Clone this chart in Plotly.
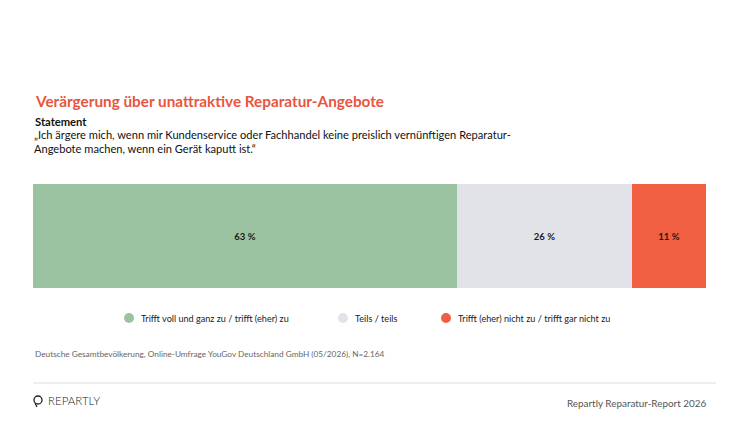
import plotly.graph_objects as go

W, H = 750, 422

categories = ["Trifft voll und ganz zu / trifft (eher) zu", "Teils / teils", "Trifft (eher) nicht zu / trifft gar nicht zu"]
values = [63, 26, 11]
colors = ["#9BC3A1", "#E2E3E8", "#F05F42"]
statement = ["Statement"]

title = "Verärgerung über unattraktive Reparatur-Angebote"
quote_lines = ["„Ich ärgere mich, wenn mir Kundenservice oder Fachhandel keine preislich vernünftigen Reparatur-",
               "Angebote machen, wenn ein Gerät kaputt ist.“"]
source = "Deutsche Gesamtbevölkerung, Online-Umfrage YouGov Deutschland GmbH (05/2026), N=2.164"
footer = "Repartly Reparatur-Report 2026"

def px(x):
    return x / W

def py(y):
    return 1 - y / H

fig = go.Figure()
for cat, val, col in zip(categories, values, colors):
    fig.add_trace(go.Bar(
        y=statement, x=[val], name=cat, orientation="h",
        marker=dict(color=col, line=dict(width=0)),
        text=[f"{val}\u202f%"], textposition="inside", insidetextanchor="middle",
        textfont=dict(family="Lato", size=9.5, color="#1a1a1a", weight="bold"),
        hoverinfo="skip", showlegend=False,
    ))

fig.update_layout(
    width=W, height=H, barmode="stack", bargap=0,
    margin=dict(l=0, r=0, t=0, b=0),
    paper_bgcolor="white", plot_bgcolor="white",
    font=dict(family="Lato", color="#111"),
    xaxis=dict(domain=[px(33), px(706)], range=[0, 100], visible=False, fixedrange=True),
    yaxis=dict(domain=[py(288), py(184)], visible=False, fixedrange=True),
    uniformtext=dict(minsize=8, mode="show"),
)

ann = []
ann.append(dict(text=title, x=px(33), y=py(101), xanchor="left", yanchor="middle",
                font=dict(family="Lato", size=15.3, color="#E8553E", weight="bold")))
ann.append(dict(text="<b>Statement</b>", x=px(33), y=py(121), xanchor="left", yanchor="middle",
                font=dict(family="Lato", size=11.2, color="#111")))
for i, line in enumerate(quote_lines):
    ann.append(dict(text=line, x=px(32), y=py(135 + 13 * i), xanchor="left", yanchor="middle", align="left",
                    font=dict(family="Lato", size=11.1, color="#111")))

# legend (manual)
leg_x = [129, 343, 446]
for lx, cat, col in zip(leg_x, categories, colors):
    fig.add_shape(type="circle", xref="paper", yref="paper",
                  x0=px(lx - 5), x1=px(lx + 5), y0=py(323), y1=py(313),
                  fillcolor=col, line=dict(width=0))
    ann.append(dict(text=cat, x=px(lx + 10), y=py(318), xanchor="left", yanchor="middle",
                    font=dict(family="Lato", size=9.1, color="#222")))

ann.append(dict(text=source, x=px(33), y=py(354), xanchor="left", yanchor="middle",
                font=dict(family="Lato", size=8.25, color="#666")))
fig.add_shape(type="line", xref="paper", yref="paper", x0=px(33), x1=px(716), y0=py(383), y1=py(383),
              line=dict(color="#DDDDDD", width=1))
ann.append(dict(text="REPARTLY", x=px(46), y=py(400), xanchor="left", yanchor="middle",
                font=dict(family="Lato", size=11.5, color="#222", weight=300)))
ann.append(dict(text=footer, x=px(708), y=py(403), xanchor="right", yanchor="middle",
                font=dict(family="Lato", size=9.9, color="#555")))

# logo glyph
fig.add_shape(type="circle", xref="paper", yref="paper",
              x0=px(34), x1=px(42), y0=py(404), y1=py(396),
              line=dict(color="#222", width=1.3))
fig.add_shape(type="line", xref="paper", yref="paper",
              x0=px(35), x1=px(37), y0=py(403), y1=py(407),
              line=dict(color="#222", width=1.3))

for a in ann:
    a.update(xref="paper", yref="paper", showarrow=False)
fig.update_layout(annotations=ann)

fig.write_html("out.html")
